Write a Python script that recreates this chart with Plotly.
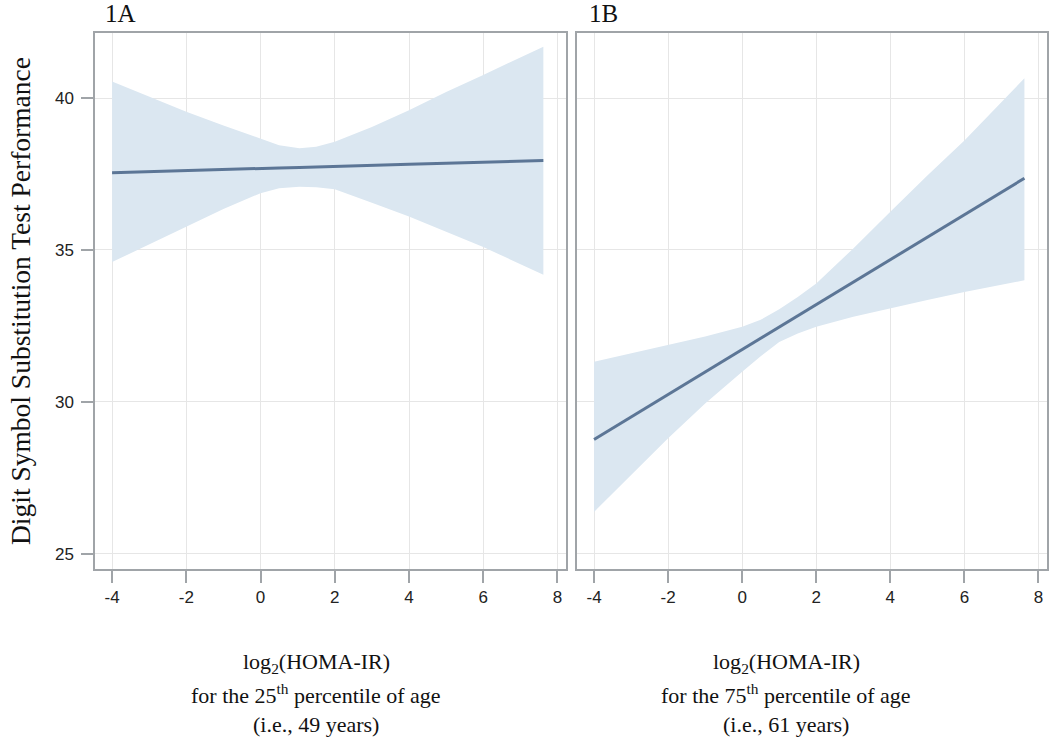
import plotly.graph_objects as go

# ---- data ----
x_a = [-4, -3, -2, -1, 0, 0.5, 1.05, 1.5, 2, 3, 4, 5, 6, 7, 7.62]
fit_a = [37.54, 37.58, 37.61, 37.65, 37.68, 37.70, 37.71, 37.73, 37.75, 37.78, 37.82, 37.85, 37.88, 37.92, 37.94]
upper_a = [40.54, 40.05, 39.55, 39.10, 38.68, 38.45, 38.35, 38.40, 38.56, 39.05, 39.60, 40.20, 40.76, 41.35, 41.69]
lower_a = [34.60, 35.20, 35.77, 36.35, 36.87, 37.03, 37.08, 37.06, 37.00, 36.55, 36.10, 35.60, 35.10, 34.53, 34.18]

x_b = [-4, -3, -2, -1, 0, 0.5, 1, 1.5, 2, 3, 4, 5, 6, 7, 7.62]
fit_b = [28.76, 29.50, 30.24, 30.98, 31.72, 32.09, 32.46, 32.83, 33.20, 33.94, 34.68, 35.42, 36.16, 36.90, 37.36]
upper_b = [31.32, 31.60, 31.86, 32.15, 32.47, 32.70, 33.05, 33.45, 33.90, 35.05, 36.26, 37.45, 38.60, 39.85, 40.65]
lower_b = [26.38, 27.60, 28.80, 29.95, 30.99, 31.50, 31.97, 32.25, 32.47, 32.80, 33.07, 33.35, 33.62, 33.85, 34.00]

x_ticks = [-4, -2, 0, 2, 4, 6, 8]
x_tick_labels = ["-4", "-2", "0", "2", "4", "6", "8"]
y_ticks = [25, 30, 35, 40]
y_tick_labels = ["25", "30", "35", "40"]
panel_titles = ["1A", "1B"]
y_title = "Digit Symbol Substitution Test Performance"
x_titles = [
    ["log<sub>2</sub>(HOMA-IR)", "for the 25<sup>th</sup> percentile of age", "(i.e., 49 years)"],
    ["log<sub>2</sub>(HOMA-IR)", "for the 75<sup>th</sup> percentile of age", "(i.e., 61 years)"],
]

# ---- style ----
W, H = 1050, 740
BAND = "rgb(219,231,241)"
LINE = "rgb(92,118,150)"
FRAME = "rgb(160,164,168)"
GRID = "rgb(230,230,230)"
SERIF = "Liberation Serif"
SANS = "Liberation Sans"

fig = go.Figure()

panels = [
    (x_a, fit_a, upper_a, lower_a, "x", "y"),
    (x_b, fit_b, upper_b, lower_b, "x2", "y2"),
]
for xs, fit, up, lo, xa, ya in panels:
    fig.add_trace(go.Scatter(x=xs + xs[::-1], y=up + lo[::-1], fill="toself",
                             fillcolor=BAND, line=dict(width=0), mode="lines",
                             hoverinfo="skip", showlegend=False, xaxis=xa, yaxis=ya))
    fig.add_trace(go.Scatter(x=xs, y=fit, mode="lines", line=dict(color=LINE, width=3),
                             showlegend=False, xaxis=xa, yaxis=ya))

top = 1 - 32.7 / H
bot = 1 - 569 / H
xdom1 = [95 / W, 566 / W]
xdom2 = [577 / W, 1047 / W]

common_x = dict(range=[-4.46, 8.23], tickvals=x_ticks, ticktext=x_tick_labels,
                ticks="outside", ticklen=12, ticklabeloverflow="allow",
                tickcolor=FRAME, tickwidth=1.5, showline=True, linecolor=FRAME, linewidth=1.5,
                mirror=True, showgrid=True, gridcolor=GRID, gridwidth=1.2, zeroline=False,
                tickfont=dict(family=SANS, size=17, color="#222"))
common_y = dict(range=[24.5, 42.15], tickvals=y_ticks, ticktext=y_tick_labels,
                showline=True, linecolor=FRAME,
                linewidth=1.5, mirror=True, showgrid=True, gridcolor=GRID, gridwidth=1.2,
                zeroline=False, domain=[bot, top],
                tickfont=dict(family=SANS, size=17, color="#222"))

fig.update_layout(
    width=W, height=H,
    margin=dict(l=0, r=0, t=0, b=0),
    paper_bgcolor="white", plot_bgcolor="white",
    xaxis=dict(domain=xdom1, anchor="y", **common_x),
    yaxis=dict(anchor="x", ticks="outside", ticklen=12, tickcolor=FRAME, tickwidth=1.5,
               ticklabelstandoff=4, **common_y),
    xaxis2=dict(domain=xdom2, anchor="y2", **common_x),
    yaxis2=dict(anchor="x2", ticks="", showticklabels=False, **common_y),
)

ann = []
for lx, t in zip([103, 587], panel_titles):
    ann.append(dict(text=t, x=lx / W, y=1 - 13 / H, xref="paper", yref="paper",
                    xanchor="left", yanchor="middle", showarrow=False,
                    font=dict(family=SERIF, size=25, color="#111")))
ann.append(dict(text=y_title, x=21 / W, y=1 - 301 / H, xref="paper", yref="paper",
                xanchor="center", yanchor="middle", textangle=-90, showarrow=False,
                font=dict(family=SERIF, size=27.5, color="#111")))
line_y = [663, 694, 724]
for cx, lines in zip([316, 786], x_titles):
    for ly, t in zip(line_y, lines):
        ann.append(dict(text=t, x=cx / W, y=1 - ly / H, xref="paper", yref="paper",
                        xanchor="center", yanchor="middle", showarrow=False,
                        font=dict(family=SERIF, size=22, color="#111")))
fig.update_layout(annotations=ann)

fig.write_html("out.html", config={"displayModeBar": False},
               post_script="document.body.style.margin='0px';")
